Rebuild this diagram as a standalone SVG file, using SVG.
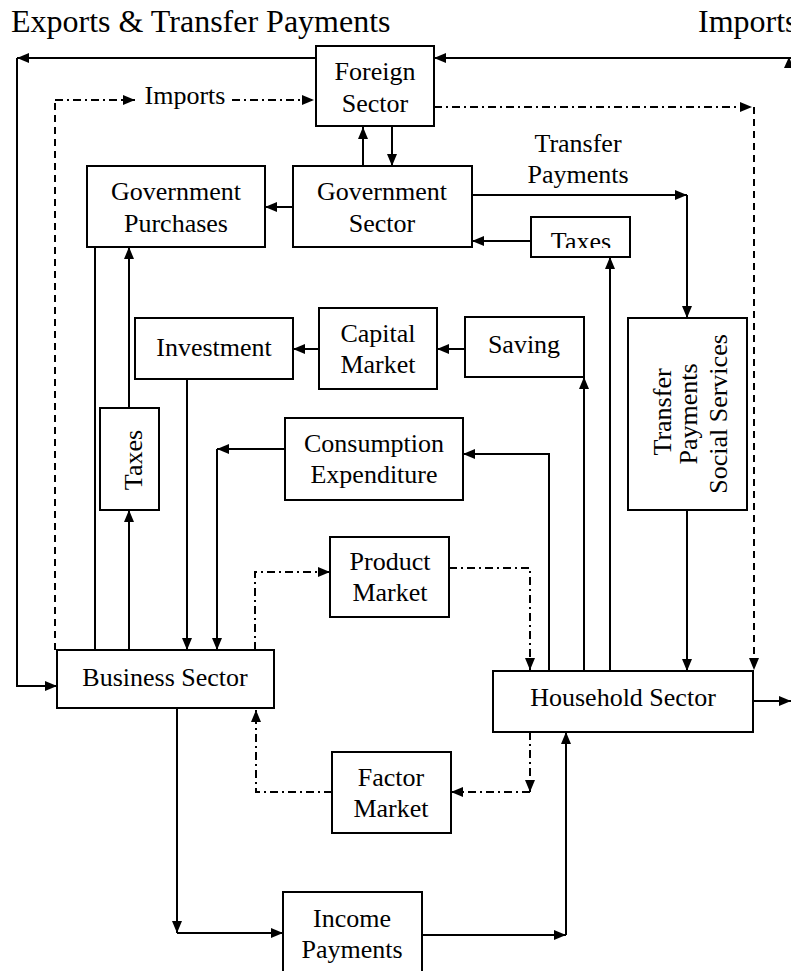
<svg xmlns="http://www.w3.org/2000/svg" width="791" height="971" viewBox="0 0 791 971">
  <defs>
    <marker id="arrow" viewBox="0 0 12 10" refX="12" refY="5" markerWidth="12" markerHeight="10" markerUnits="userSpaceOnUse" orient="auto">
      <path d="M0,0 L12,5 L0,10 z" fill="#000"/>
    </marker>
    <clipPath id="clip-taxes-top"><rect x="531" y="217" width="99" height="31"/></clipPath>
  </defs>
  <style>
    .box{fill:#fff;stroke:#000;stroke-width:2}
    .lbl{font-family:"Liberation Serif","Times New Roman",serif;font-size:26px;fill:#000;text-anchor:middle}
    .big{font-size:32px;text-anchor:start}
    .flow{fill:none;stroke:#000;stroke-width:2}
    .arr{marker-end:url(#arrow)}
    .dash{stroke-dasharray:7 5}
    .dd{stroke-dasharray:8 4 2 4}
  </style>
  <rect width="791" height="971" fill="#fff"/>

  <!-- headline labels -->
  <text class="lbl big" x="11" y="32">Exports &amp; Transfer Payments</text>
  <text class="lbl big" x="698" y="32">Imports</text>
  <text class="lbl" x="185" y="104">Imports</text>
  <text class="lbl" x="578" y="152">Transfer</text>
  <text class="lbl" x="578" y="183">Payments</text>

  <g id="connectors">
    <!-- foreign trade loop -->
    <path class="flow arr" d="M316,58 H17"/>
    <path class="flow arr" d="M17,58 V686 H57"/>
    <path class="flow arr" d="M791,58 H434"/>
    <polygon points="789,57 794,68 784,68" fill="#000"/>
    <path class="flow dash" d="M55,650 V100"/>
    <path class="flow dd arr" d="M55,100 H135"/>
    <path class="flow dd arr" d="M232,100 H314"/>
    <path class="flow dd arr" d="M434,107 H752"/>
    <path class="flow dash arr" d="M754,107 V670"/>
    <!-- government flows -->
    <path class="flow arr" d="M363,166 V127"/>
    <path class="flow arr" d="M392,127 V166"/>
    <path class="flow arr" d="M293,207 H265"/>
    <path class="flow arr" d="M472,195 H687"/>
    <path class="flow arr" d="M687,195 V318"/>
    <path class="flow arr" d="M531,241 H472"/>
    <path class="flow arr" d="M610,671 V257"/>
    <path class="flow arr" d="M687,510 V671"/>
    <!-- saving and investment -->
    <path class="flow arr" d="M584,671 V377"/>
    <path class="flow arr" d="M465,349 H437"/>
    <path class="flow arr" d="M319,349 H293"/>
    <path class="flow arr" d="M187,379 V650"/>
    <!-- consumption -->
    <path class="flow arr" d="M549,671 V454 H463"/>
    <path class="flow arr" d="M285,449 H217"/>
    <path class="flow arr" d="M217,449 V650"/>
    <!-- business taxes and purchases -->
    <path class="flow" d="M95,247 V650"/>
    <path class="flow arr" d="M129,650 V510"/>
    <path class="flow arr" d="M129,408 V247"/>
    <!-- product and factor markets -->
    <path class="flow dd arr" d="M255,650 V572 H330"/>
    <path class="flow dd arr" d="M449,568 H530 V670"/>
    <path class="flow dd arr" d="M530,732 V792"/>
    <path class="flow dd arr" d="M530,792 H451"/>
    <path class="flow dd arr" d="M332,792 H256 V710"/>
    <!-- income payments -->
    <path class="flow arr" d="M177,708 V933"/>
    <path class="flow arr" d="M177,933 H283"/>
    <path class="flow arr" d="M422,935 H566"/>
    <path class="flow arr" d="M566,935 V732"/>
    <path class="flow arr" d="M753,701 H791"/>
  </g>

  <g id="foreign-sector">
    <rect class="box" x="316" y="46" width="118" height="80"/>
    <text class="lbl" x="375" y="80">Foreign</text>
    <text class="lbl" x="375" y="112">Sector</text>
  </g>
  <g id="government-sector">
    <rect class="box" x="293" y="166" width="179" height="81"/>
    <text class="lbl" x="382" y="200">Government</text>
    <text class="lbl" x="382" y="232">Sector</text>
  </g>
  <g id="government-purchases">
    <rect class="box" x="87" y="166" width="178" height="81"/>
    <text class="lbl" x="176" y="200">Government</text>
    <text class="lbl" x="176" y="232">Purchases</text>
  </g>
  <g id="taxes-household">
    <rect class="box" x="531" y="217" width="99" height="40"/>
    <text class="lbl" x="581" y="250" clip-path="url(#clip-taxes-top)">Taxes</text>
  </g>
  <g id="investment">
    <rect class="box" x="135" y="318" width="158" height="61"/>
    <text class="lbl" x="214" y="356">Investment</text>
  </g>
  <g id="capital-market">
    <rect class="box" x="319" y="308" width="118" height="81"/>
    <text class="lbl" x="378" y="342">Capital</text>
    <text class="lbl" x="378" y="373">Market</text>
  </g>
  <g id="saving">
    <rect class="box" x="465" y="317" width="119" height="60"/>
    <text class="lbl" x="524" y="353">Saving</text>
  </g>
  <g id="transfer-social">
    <rect class="box" x="628" y="318" width="119" height="192"/>
    <text class="lbl" transform="translate(671,412) rotate(-90)">Transfer</text>
    <text class="lbl" transform="translate(697,414) rotate(-90)">Payments</text>
    <text class="lbl" transform="translate(727,414) rotate(-90)">Social Services</text>
  </g>
  <g id="taxes-business">
    <rect class="box" x="100" y="408" width="59" height="102"/>
    <text class="lbl" transform="translate(142,460) rotate(-90)">Taxes</text>
  </g>
  <g id="consumption-expenditure">
    <rect class="box" x="285" y="418" width="178" height="82"/>
    <text class="lbl" x="374" y="452">Consumption</text>
    <text class="lbl" x="374" y="483">Expenditure</text>
  </g>
  <g id="product-market">
    <rect class="box" x="330" y="537" width="119" height="80"/>
    <text class="lbl" x="390" y="570">Product</text>
    <text class="lbl" x="390" y="601">Market</text>
  </g>
  <g id="business-sector">
    <rect class="box" x="57" y="650" width="217" height="58"/>
    <text class="lbl" x="165" y="686">Business Sector</text>
  </g>
  <g id="household-sector">
    <rect class="box" x="493" y="671" width="260" height="61"/>
    <text class="lbl" x="623" y="706">Household Sector</text>
  </g>
  <g id="factor-market">
    <rect class="box" x="332" y="752" width="119" height="81"/>
    <text class="lbl" x="391" y="786">Factor</text>
    <text class="lbl" x="391" y="817">Market</text>
  </g>
  <g id="income-payments">
    <rect class="box" x="283" y="892" width="139" height="90"/>
    <text class="lbl" x="352" y="927">Income</text>
    <text class="lbl" x="352" y="958">Payments</text>
  </g>
</svg>
